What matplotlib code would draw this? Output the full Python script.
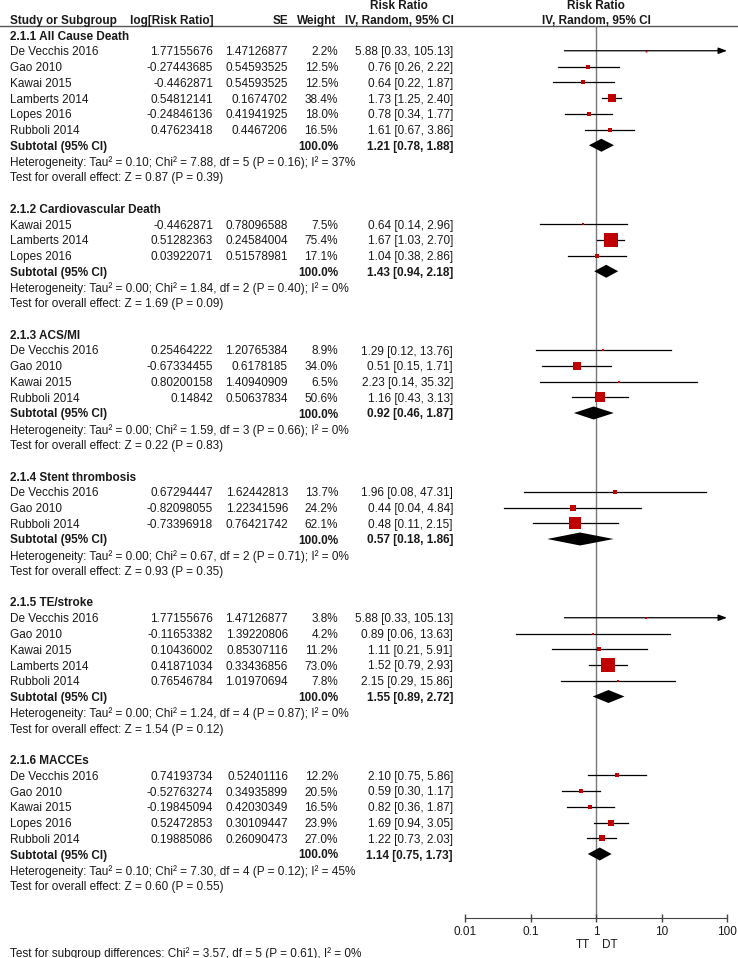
#!/usr/bin/env python3
"""Forest plot: risk ratios by subgroup (IV, random effects), TT vs DT."""

import matplotlib
matplotlib.use("Agg")
import matplotlib.pyplot as plt
import numpy as np

plt.rcParams.update({
    "font.family": ["Liberation Sans", "DejaVu Sans"],
    "font.size": 8.5,
    "text.color": "#1a1a1a",
})

# --- data ---
group_titles = ["2.1.1 All Cause Death", "2.1.2 Cardiovascular Death",
                "2.1.3 ACS/MI", "2.1.4 Stent thrombosis",
                "2.1.5 TE/stroke", "2.1.6 MACCEs"]

study_group = [0, 0, 0, 0, 0, 0,
               1, 1, 1,
               2, 2, 2, 2,
               3, 3, 3,
               4, 4, 4, 4, 4,
               5, 5, 5, 5, 5]
study_names = ["De Vecchis 2016", "Gao 2010", "Kawai 2015", "Lamberts 2014", "Lopes 2016", "Rubboli 2014",
               "Kawai 2015", "Lamberts 2014", "Lopes 2016",
               "De Vecchis 2016", "Gao 2010", "Kawai 2015", "Rubboli 2014",
               "De Vecchis 2016", "Gao 2010", "Rubboli 2014",
               "De Vecchis 2016", "Gao 2010", "Kawai 2015", "Lamberts 2014", "Rubboli 2014",
               "De Vecchis 2016", "Gao 2010", "Kawai 2015", "Lopes 2016", "Rubboli 2014"]
log_rr = [1.77155676, -0.27443685, -0.4462871, 0.54812141, -0.24846136, 0.47623418,
          -0.4462871, 0.51282363, 0.03922071,
          0.25464222, -0.67334455, 0.80200158, 0.14842,
          0.67294447, -0.82098055, -0.73396918,
          1.77155676, -0.11653382, 0.10436002, 0.41871034, 0.76546784,
          0.74193734, -0.52763274, -0.19845094, 0.52472853, 0.19885086]
se = [1.47126877, 0.54593525, 0.54593525, 0.1674702, 0.41941925, 0.4467206,
      0.78096588, 0.24584004, 0.51578981,
      1.20765384, 0.6178185, 1.40940909, 0.50637834,
      1.62442813, 1.22341596, 0.76421742,
      1.47126877, 1.39220806, 0.85307116, 0.33436856, 1.01970694,
      0.52401116, 0.34935899, 0.42030349, 0.30109447, 0.26090473]
weight = [2.2, 12.5, 12.5, 38.4, 18.0, 16.5,
          7.5, 75.4, 17.1,
          8.9, 34.0, 6.5, 50.6,
          13.7, 24.2, 62.1,
          3.8, 4.2, 11.2, 73.0, 7.8,
          12.2, 20.5, 16.5, 23.9, 27.0]
rr = [5.88, 0.76, 0.64, 1.73, 0.78, 1.61,
      0.64, 1.67, 1.04,
      1.29, 0.51, 2.23, 1.16,
      1.96, 0.44, 0.48,
      5.88, 0.89, 1.11, 1.52, 2.15,
      2.10, 0.59, 0.82, 1.69, 1.22]
ci_low = [0.33, 0.26, 0.22, 1.25, 0.34, 0.67,
          0.14, 1.03, 0.38,
          0.12, 0.15, 0.14, 0.43,
          0.08, 0.04, 0.11,
          0.33, 0.06, 0.21, 0.79, 0.29,
          0.75, 0.30, 0.36, 0.94, 0.73]
ci_high = [105.13, 2.22, 1.87, 2.40, 1.77, 3.86,
           2.96, 2.70, 2.86,
           13.76, 1.71, 35.32, 3.13,
           47.31, 4.84, 2.15,
           105.13, 13.63, 5.91, 2.93, 15.86,
           5.86, 1.17, 1.87, 3.05, 2.03]

sub_rr = [1.21, 1.43, 0.92, 0.57, 1.55, 1.14]
sub_low = [0.78, 0.94, 0.46, 0.18, 0.89, 0.75]
sub_high = [1.88, 2.18, 1.87, 1.86, 2.72, 1.73]
tau2 = [0.10, 0.00, 0.00, 0.00, 0.00, 0.10]
chi2 = [7.88, 1.84, 1.59, 0.67, 1.24, 7.30]
het_df = [5, 2, 3, 2, 4, 4]
het_p = [0.16, 0.40, 0.66, 0.71, 0.87, 0.12]
i2 = [37, 0, 0, 0, 0, 45]
z_val = [0.87, 1.69, 0.22, 0.93, 1.54, 0.60]
z_p = [0.39, 0.09, 0.83, 0.35, 0.12, 0.55]

ticks = [0.01, 0.1, 1, 10, 100]
tick_labels = ["0.01", "0.1", "1", "10", "100"]

# --- layout (pixels) ---
W, H = 738, 958
ROW0, STEP = 35.0, 15.75
TXT_DY = 1.5  # text sits a bit lower than the marks
X_NAME, X_LOG, X_SE, X_W, X_RR = 10, 213, 288, 338, 453
AX_L, AX_R, AX_T, AX_B = 465, 727, 26, 918
RED = "#c00000"

fig = plt.figure(figsize=(W / 100, H / 100), dpi=100)
tx = fig.add_axes([0, 0, 1, 1])
tx.set_xlim(0, W)
tx.set_ylim(H, 0)
tx.axis("off")

ax = fig.add_axes([AX_L / W, 1 - AX_B / H, (AX_R - AX_L) / W, (AX_B - AX_T) / H])
ax.set_xscale("log")
ax.set_xlim(0.01, 100)
ax.set_ylim(AX_B, AX_T)
ax.patch.set_alpha(0)
for s in ["top", "left", "right"]:
    ax.spines[s].set_visible(False)
ax.spines["bottom"].set_color("#444444")
ax.set_yticks([])
ax.set_xticks(ticks)
ax.set_xticklabels(tick_labels)
ax.minorticks_off()
ax.tick_params(axis="x", direction="inout", length=6, width=1, color="#444444",
               labelsize=8.5, pad=3, labelcolor="#1a1a1a")
ax.axvline(1, color="#777777", lw=1, zorder=1)


def put(x, y, s, ha="left", bold=False):
    tx.text(x, y + TXT_DY, s, ha=ha, va="center",
            fontweight="bold" if bold else "normal")


# headers
put(399, 4, "Risk Ratio", ha="center", bold=True)
put(596, 4, "Risk Ratio", ha="center", bold=True)
put(X_NAME, 19, "Study or Subgroup", bold=True)
put(X_LOG, 19, "log[Risk Ratio]", ha="right", bold=True)
put(X_SE, 19, "SE", ha="right", bold=True)
put(X_W - 2, 19, "Weight", ha="right", bold=True)
put(399, 19, "IV, Random, 95% CI", ha="center", bold=True)
put(596, 19, "IV, Random, 95% CI", ha="center", bold=True)
tx.axhline(25.5, color="#555555", lw=1)

row = 0
for g, title in enumerate(group_titles):
    y = ROW0 + STEP * row
    put(X_NAME, y, title, bold=True)
    row += 1
    for i in [k for k, sg in enumerate(study_group) if sg == g]:
        y = ROW0 + STEP * row
        put(X_NAME, y, study_names[i])
        put(X_LOG, y, str(log_rr[i]), ha="right")
        put(X_SE, y, str(se[i]), ha="right")
        put(X_W, y, f"{weight[i]:.1f}%", ha="right")
        put(X_RR, y, f"{rr[i]:.2f} [{ci_low[i]:.2f}, {ci_high[i]:.2f}]", ha="right")
        if ci_high[i] > 100:
            ax.annotate("", xy=(100, y), xytext=(ci_low[i], y),
                        arrowprops=dict(arrowstyle="-|>,head_length=0.6,head_width=0.22",
                                        color="black", lw=0.9, shrinkA=0, shrinkB=0),
                        annotation_clip=False, zorder=2)
        else:
            ax.plot([ci_low[i], ci_high[i]], [y, y], color="black", lw=0.9, zorder=2)
        side = 1.5 + 0.165 * weight[i]
        ax.plot(rr[i], y, marker="s", color=RED, markersize=side * 0.72,
                markeredgewidth=0, linestyle="none", zorder=3)
        row += 1
    # subtotal
    y = ROW0 + STEP * row
    put(X_NAME, y, "Subtotal (95% CI)", bold=True)
    put(X_W, y, "100.0%", ha="right", bold=True)
    put(X_RR, y, f"{sub_rr[g]:.2f} [{sub_low[g]:.2f}, {sub_high[g]:.2f}]",
        ha="right", bold=True)
    ax.fill([sub_low[g], sub_rr[g], sub_high[g], sub_rr[g]],
            [y, y - 6.5, y, y + 6.5], color="black", lw=0, zorder=3)
    row += 1
    y = ROW0 + STEP * row
    put(X_NAME, y,
        f"Heterogeneity: Tau\u00b2 = {tau2[g]:.2f}; Chi\u00b2 = {chi2[g]:.2f}, "
        f"df = {het_df[g]} (P = {het_p[g]:.2f}); I\u00b2 = {i2[g]}%")
    row += 1
    y = ROW0 + STEP * row
    put(X_NAME, y, f"Test for overall effect: Z = {z_val[g]:.2f} (P = {z_p[g]:.2f})")
    row += 2

# favours labels and subgroup differences
ax.text(0.8, 945, "TT", ha="right", va="center", clip_on=False)
ax.text(1.25, 945, "DT", ha="left", va="center", clip_on=False)
put(X_NAME, 952, "Test for subgroup differences: Chi\u00b2 = 3.57, df = 5 (P = 0.61), I\u00b2 = 0%")

fig.savefig("out.png", dpi=100, facecolor="white")
